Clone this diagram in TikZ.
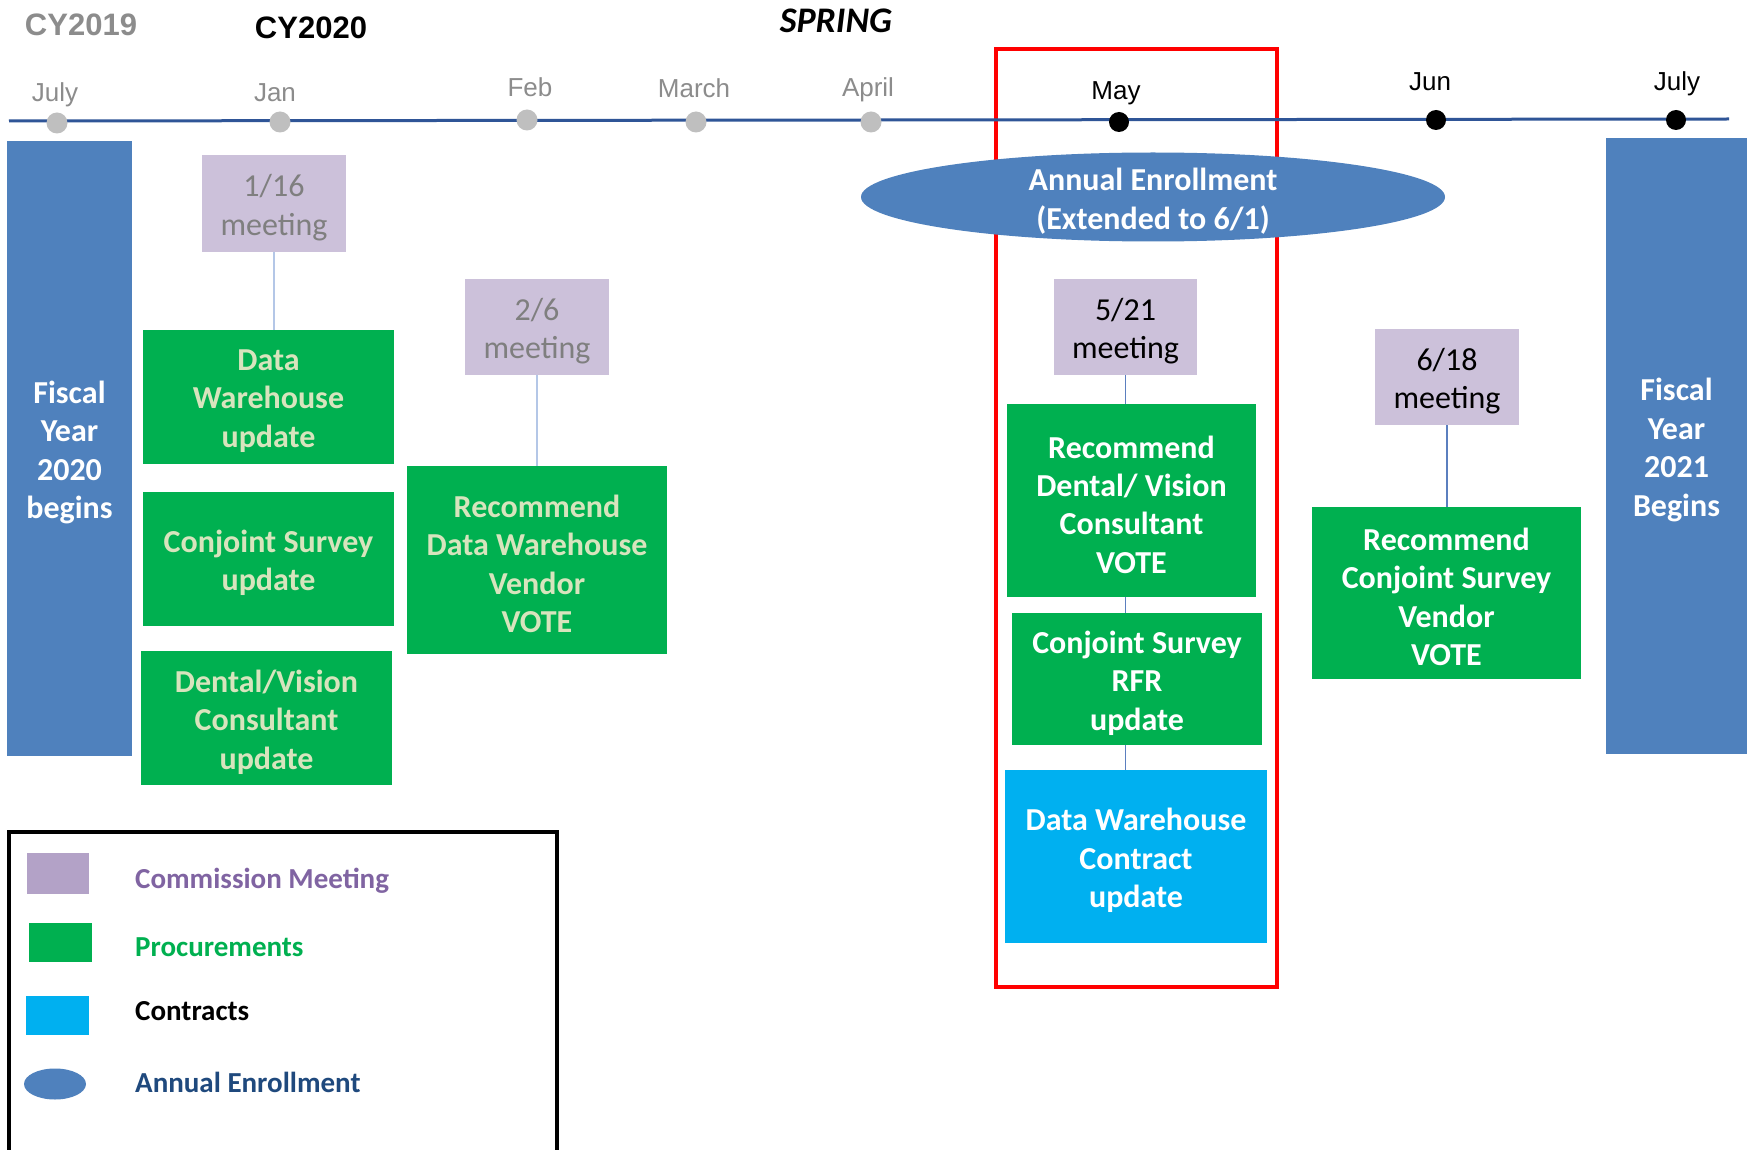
\documentclass[tikz,border=0pt]{standalone}
\usepackage{fontspec}
\setmainfont{Carlito}
\newfontfamily\arialf{Liberation Sans}
\usetikzlibrary{shapes.geometric}
\definecolor{ofblue}{HTML}{4F81BD}
\definecolor{lav}{HTML}{CCC1DA}
\definecolor{lavdark}{HTML}{B3A2C7}
\definecolor{grn}{HTML}{00B050}
\definecolor{cyanb}{HTML}{00B0F0}
\definecolor{palegrn}{HTML}{D7E4BD}
\definecolor{linenavy}{HTML}{2F5597}
\definecolor{dotgray}{HTML}{BFBFBF}
\definecolor{txtgray}{HTML}{7F7F7F}
\definecolor{mongray}{HTML}{8C8C8C}
\definecolor{purp}{HTML}{8064A2}
\definecolor{navyt}{HTML}{1F497D}
\definecolor{conlight}{HTML}{B4C7E7}
\definecolor{condark}{HTML}{5B7FBF}
\tikzset{
  boxtxt/.style={font=\fontsize{32}{38.4}\selectfont\bfseries, align=center, inner sep=0pt},
  meettxt/.style={font=\fontsize{32}{38.4}\selectfont, align=center, inner sep=0pt},
  meetbox/.style={fill=lav, inner sep=0pt},
  gbox/.style={fill=grn, inner sep=0pt},
  cbox/.style={fill=cyanb, inner sep=0pt},
  bar/.style={fill=ofblue, inner sep=0pt},
  month/.style={font=\arialf\fontsize{26}{30}\selectfont, inner sep=0pt},
  gdot/.style={circle, fill=dotgray, minimum size=21pt, inner sep=0pt},
  bdot/.style={circle, fill=black, minimum size=20pt, inner sep=0pt},
  lconn/.style={conlight, line width=1.5pt},
  dconn/.style={condark, line width=1.5pt},
  legtxt/.style={font=\fontsize{29}{34}\selectfont\bfseries, anchor=west, inner sep=0pt}
}
\begin{document}
\begin{tikzpicture}[x=1pt,y=-1pt]
\useasboundingbox[fill=white] (0,0) rectangle (1754,1150);
% red highlight (behind)
\node[draw=red, line width=4.5pt, minimum width=281pt, minimum height=938pt, inner sep=0pt] (hl) at (1136.5,518) {};
% headers
\node[font=\arialf\bfseries\fontsize{31}{36}\selectfont, text=mongray, inner sep=0pt] (cy19) at (81,25) {CY2019};
\node[font=\arialf\bfseries\fontsize{31}{36}\selectfont, inner sep=0pt] (cy20) at (311,28) {CY2020};
\node[font=\bfseries\itshape\fontsize{36}{40}\selectfont, inner sep=0pt] (spring) at (836,21) {SPRING};
% timeline
\coordinate (tl0) at (9,121);
\coordinate (tl1) at (1729,119);
\draw[linenavy, line width=3pt] (tl0) -- (tl1);
\node[gdot] (d1) at (57,123) {};
\node[gdot] (d2) at (280,122) {};
\node[gdot] (d3) at (527,120) {};
\node[gdot] (d4) at (696,122) {};
\node[gdot] (d5) at (871,122) {};
\node[bdot] (d6) at (1119,122) {};
\node[bdot] (d7) at (1436,120) {};
\node[bdot] (d8) at (1676,120) {};
\node[month, text=mongray] (m1) at (55,95) {July};
\node[month, text=mongray] (m2) at (275,93) {Jan};
\node[month, text=mongray] (m3) at (530,87) {Feb};
\node[month, text=mongray] (m4) at (694,88) {March};
\node[month, text=mongray] (m5) at (868,90) {April};
\node[month] (m6) at (1116,93) {May};
\node[month] (m7) at (1430,82) {Jun};
\node[month] (m8) at (1677,84) {July};
% fiscal bars
\node[bar, minimum width=125pt, minimum height=615pt] (fy20) at (69.5,448.5) {};
\node[boxtxt, text=white] (fy20t) at ([yshift=-4pt]fy20.center) {Fiscal\\Year\\2020\\begins};
\node[bar, minimum width=141pt, minimum height=616pt] (fy21) at (1676.5,446) {};
\node[boxtxt, text=white] (fy21t) at ([yshift=-4pt]fy21.center) {Fiscal\\Year\\2021\\Begins};
% enrollment ellipse
\node[ellipse, fill=ofblue, minimum width=584pt, minimum height=89pt, inner sep=0pt] (ae) at (1153,197) {};
\node[boxtxt, text=white] (aet) at ([yshift=-4pt]ae.center) {Annual Enrollment\\(Extended to 6/1)};
% meetings
\node[meetbox, minimum width=144pt, minimum height=97pt] (mt116) at (274,203.5) {};
\node[meettxt, text=txtgray] (mt116t) at ([yshift=-4pt]mt116.center) {1/16\\meeting};
\node[meetbox, minimum width=144pt, minimum height=96pt] (mt26) at (537,327) {};
\node[meettxt, text=txtgray] (mt26t) at ([yshift=-4pt]mt26.center) {2/6\\meeting};
\node[meetbox, minimum width=143pt, minimum height=96pt] (mt521) at (1125.5,327) {};
\node[meettxt] (mt521t) at ([yshift=-4pt]mt521.center) {5/21\\meeting};
\node[meetbox, minimum width=144pt, minimum height=96pt] (mt618) at (1447,377) {};
\node[meettxt] (mt618t) at ([yshift=-4pt]mt618.center) {6/18\\meeting};
% green boxes
\node[gbox, minimum width=251pt, minimum height=134pt] (dwu) at (268.5,397) {};
\node[boxtxt, text=palegrn] (dwut) at ([yshift=-4pt]dwu.center) {Data\\Warehouse\\update};
\node[gbox, minimum width=251pt, minimum height=134pt] (csu) at (268.5,559) {};
\node[boxtxt, text=palegrn] (csut) at ([yshift=-4pt]csu.center) {Conjoint Survey\\update};
\node[gbox, minimum width=251pt, minimum height=134pt] (dvu) at (266.5,718) {};
\node[boxtxt, text=palegrn] (dvut) at ([yshift=-4pt]dvu.center) {Dental/Vision\\Consultant\\update};
\node[gbox, minimum width=260pt, minimum height=188pt] (rdw) at (537,560) {};
\node[boxtxt, text=palegrn] (rdwt) at ([yshift=-4pt]rdw.center) {Recommend\\Data Warehouse\\Vendor\\VOTE};
\node[gbox, minimum width=249pt, minimum height=193pt] (rdv) at (1131.5,500.5) {};
\node[boxtxt, text=white] (rdvt) at ([yshift=-4pt]rdv.center) {Recommend\\Dental/ Vision\\Consultant\\VOTE};
\node[gbox, minimum width=250pt, minimum height=132pt] (csr) at (1137,679) {};
\node[boxtxt, text=white] (csrt) at ([yshift=-4pt]csr.center) {Conjoint Survey\\RFR\\update};
\node[cbox, minimum width=262pt, minimum height=173pt] (dwc) at (1136,856.5) {};
\node[boxtxt, text=white] (dwct) at ([yshift=-4pt]dwc.center) {Data Warehouse\\Contract\\update};
\node[gbox, minimum width=269pt, minimum height=172pt] (rcs) at (1446.5,593) {};
\node[boxtxt, text=white] (rcst) at ([yshift=-4pt]rcs.center) {Recommend\\Conjoint Survey\\Vendor\\VOTE};
% connectors
\draw[lconn] (mt116.south) -- (mt116.south |- dwu.north);
\draw[lconn] (mt26.south) -- (mt26.south |- rdw.north);
\draw[dconn] (mt521.south) -- (mt521.south |- rdv.north);
\draw[dconn] (rdv.south -| mt521.south) -- (csr.north -| mt521.south);
\draw[dconn] (csr.south -| mt521.south) -- (dwc.north -| mt521.south);
\draw[dconn] (mt618.south) -- (mt618.south |- rcs.north);
% legend
\node[draw=black, line width=3.5pt, minimum width=548pt, minimum height=340pt, inner sep=0pt] (leg) at (283,1002) {};
\node[fill=lavdark, minimum width=62pt, minimum height=41pt, inner sep=0pt] (l1) at (58,873.5) {};
\node[fill=grn, minimum width=63pt, minimum height=39pt, inner sep=0pt] (l2) at (60.5,942.5) {};
\node[fill=cyanb, minimum width=63pt, minimum height=39pt, inner sep=0pt] (l3) at (57.5,1015.5) {};
\node[ellipse, fill=ofblue, minimum width=62pt, minimum height=31pt, inner sep=0pt] (l4) at (55,1084) {};
\node[legtxt, text=purp] (t1) at (135,881) {Commission Meeting};
\node[legtxt, text=grn] (t2) at (135,947) {Procurements};
\node[legtxt, text=black] (t3) at (135,1011) {Contracts};
\node[legtxt, text=navyt] (t4) at (135,1082) {Annual Enrollment};
\end{tikzpicture}
\end{document}
